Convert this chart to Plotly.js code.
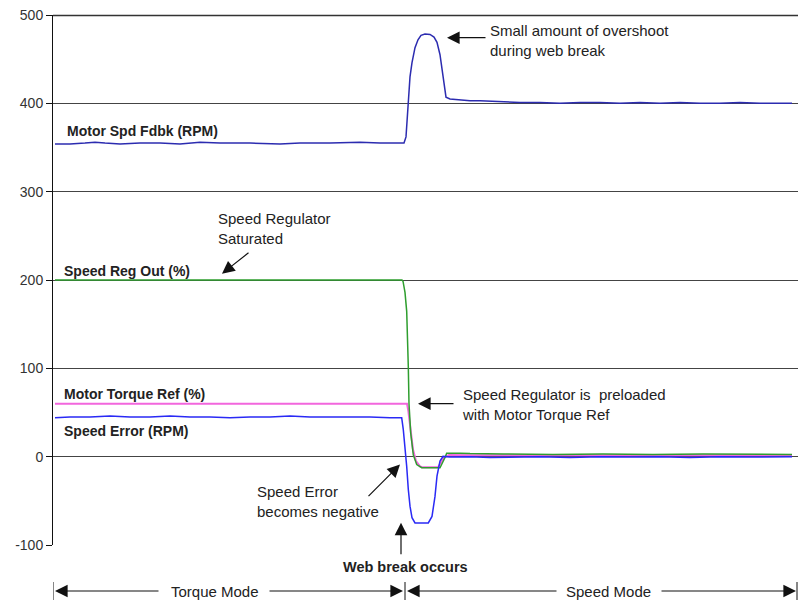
<!DOCTYPE html>
<html>
<head>
<meta charset="utf-8">
<script src="https://cdn.plot.ly/plotly-3.0.1.min.js"></script>
<style>html,body{margin:0;padding:0;background:#fff;}#chart{width:800px;height:601px;}</style>
</head>
<body>
<div id="chart"></div>
<script>
// ---- data (time in samples, values in RPM / %) ----
var fdbkTime = [2,17,32,42,52,67,87,107,127,147,167,197,227,247,277,307,327,351,353,355,357,359,362,365,368,372,377,381,384,387,389,391,393,397,407,417,427,447,467,487,507,527,547,567,587,607,627,647,667,687,707,739];
var fdbkVals = [354,354,355,356,355,354,355,355,354,356,355,355,354,355,355,356,355,355,362,400,430,446,463,472,477,478.5,478,475,469,455,440,420,407,405,404,403,403,402,401,401,400,401,401,400,401,400,401,400,400,401,400,400];

var regTime = [2,100,200,300,349,350,352,353.7,355,355.3,356,357.7,360.3,363.7,368.7,387,392,393.7,407,417,450,500,550,600,650,700,739];
var regVals = [200,200,200,200,200,198.6,186,164.5,121,102,60,27,2,-9,-12.5,-12.5,-1,4,4,3.5,3,2.5,3,2.5,3,2.5,2.5];

var torqTime = [2,100,200,300,354,355.3,357,360,363,367,369,385,391,396,420,480,540,600,660,739];
var torqVals = [60,60,60,60,60,52,35,8,-5,-11,-12,-12,-1,2,1.5,1.5,2,1.5,1.5,1.5];

var errTime = [2,17,37,57,77,97,117,137,157,177,197,217,237,257,277,297,317,337,345,348.7,350.3,352,353.7,355.3,357,359,362,375.3,379,382,384,387,390,397,417,437,457,487,517,547,577,607,637,667,697,739];
var errVals = [44,45,45,46,45,45,46,45,45,44,45,45,46,45,45,45,45,44,44,44,30.6,11.7,-11,-37,-56,-69,-75,-75,-67.6,-45,-22,-5,0.3,-0.5,0,-1,-0.5,0,-1,0,-0.5,0,-1,0,-0.5,0];

var tickVals = [-100,0,100,200,300,400,500];
var tickText = ['-100','0','100','200','300','400','500'];

var FONT = 'Liberation Sans, Arial, sans-serif';

var traces = [
  {x: torqTime, y: torqVals, mode: 'lines', line: {color: '#f266dd', width: 2}, name: 'Motor Torque Ref (%)'},
  {x: regTime, y: regVals, mode: 'lines', line: {color: '#2e9e2e', width: 1.5}, name: 'Speed Reg Out (%)'},
  {x: fdbkTime, y: fdbkVals, mode: 'lines', line: {color: '#2c2cb0', width: 1.5}, name: 'Motor Spd Fdbk (RPM)'},
  {x: errTime, y: errVals, mode: 'lines', line: {color: '#2a2af5', width: 1.5}, name: 'Speed Error (RPM)'}
];

function yp(py) { return (545 - py) / 530; }

function lbl(text, x, y, bold, opts) {
  var a = {xref: 'x', yref: 'y', x: x, y: y, text: bold ? '<b>' + text + '</b>' : text,
    showarrow: false, xanchor: 'left', yanchor: 'middle', align: 'left',
    font: {family: FONT, size: bold ? 14 : 15, color: '#222'}};
  if (opts) for (var k in opts) a[k] = opts[k];
  return a;
}
function arr(x, y, ax, ay, yref) {
  return {xref: 'x', yref: yref || 'y', x: x, y: y, ax: ax, ay: ay, text: '',
    showarrow: true, arrowhead: 2, arrowsize: 2.1, arrowwidth: 1.2, arrowcolor: '#111'};
}

var annotations = [
  lbl('Motor Spd Fdbk (RPM)', 12, 369, true),
  lbl('Speed Reg Out (%)', 9, 210.6, true),
  lbl('Motor Torque Ref (%)', 9, 71.3, true),
  lbl('Speed Error (RPM)', 9, 29.4, true),
  lbl('Small amount of overshoot<br>during web break', 435, 471, false),
  arr(394, 474.3, 40, 0),
  lbl('Speed Regulator<br>Saturated', 163, 258, false),
  arr(169, 207.2, 28, -22),
  lbl('Speed Regulator is  preloaded<br>with Motor Torque Ref', 407, 58.9, false),
  arr(365, 60, 37, 0),
  lbl('Speed Error<br>becomes negative', 202, -51, false),
  arr(347, -9, -33, 33),
  arr(348, -74.7, 0, 33),
  {xref: 'x', yref: 'paper', x: 352, y: yp(567), text: '<b>Web break occurs</b>', showarrow: false,
   xanchor: 'center', yanchor: 'middle', font: {family: FONT, size: 14.5, color: '#222'}},
  {xref: 'x', yref: 'paper', x: 162, y: yp(591), text: 'Torque Mode', showarrow: false,
   xanchor: 'center', yanchor: 'middle', font: {family: FONT, size: 15, color: '#222'}},
  {xref: 'x', yref: 'paper', x: 555, y: yp(591), text: 'Speed Mode', showarrow: false,
   xanchor: 'center', yanchor: 'middle', font: {family: FONT, size: 15, color: '#222'}},
  arr(2, yp(591), 105, 0, 'paper'),
  arr(350, yp(591), -135, 0, 'paper'),
  arr(354, yp(591), 151, 0, 'paper'),
  arr(743, yp(591), -136, 0, 'paper')
];

var shapes = [0, 352, 744].map(function (x) {
  return {type: 'line', xref: 'x', yref: 'paper', x0: x, x1: x, y0: yp(582), y1: yp(600),
    line: {color: '#111', width: 1}};
});
// top border line at value 500
shapes.push({type: 'line', xref: 'paper', yref: 'paper', x0: 0, x1: 1, y0: yp(15.5), y1: yp(15.5),
  line: {color: '#333', width: 1.5}});

var layout = {
  width: 800, height: 601,
  margin: {l: 53, r: 2, t: 15, b: 56},
  paper_bgcolor: '#fff', plot_bgcolor: '#fff',
  showlegend: false,
  font: {family: FONT, size: 14, color: '#333'},
  xaxis: {range: [0, 745], visible: false, fixedrange: true},
  yaxis: {range: [-100, 500], tickvals: tickVals, ticktext: tickText,
    showgrid: true, gridcolor: '#444', gridwidth: 1, zeroline: false,
    showline: true, linecolor: '#111', linewidth: 1,
    ticks: 'outside', ticklen: 6, tickcolor: '#111',
    tickfont: {family: FONT, size: 14, color: '#333'}, fixedrange: true},
  annotations: annotations,
  shapes: shapes
};

Plotly.newPlot('chart', traces, layout, {displayModeBar: false, staticPlot: true});
</script>
</body>
</html>
